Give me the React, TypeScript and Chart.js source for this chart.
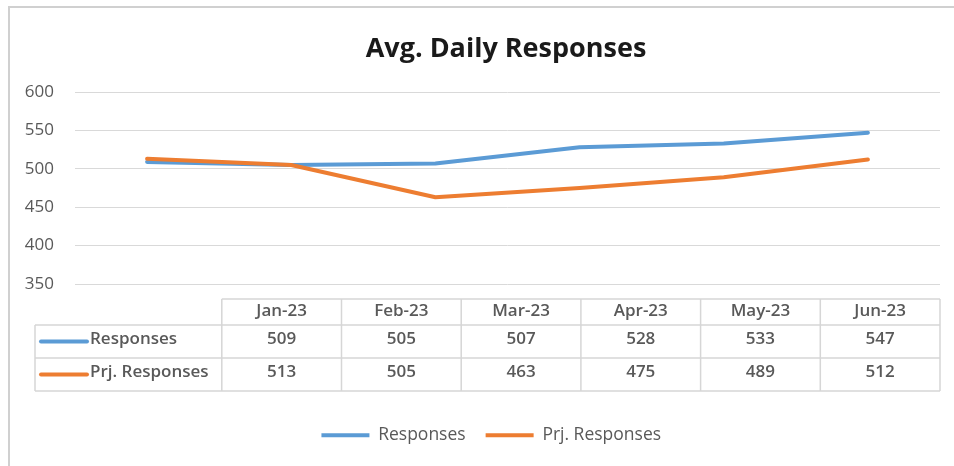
import React, { useEffect, useRef } from "react";
import { Chart, registerables } from "chart.js";

Chart.register(...registerables);

const titleText = "Avg. Daily Responses";
const categories = ["Jan-23", "Feb-23", "Mar-23", "Apr-23", "May-23", "Jun-23"];
const seriesNames = ["Responses", "Prj. Responses"];
const responses = [509, 505, 507, 528, 533, 547];
const prjResponses = [513, 505, 463, 475, 489, 512];
const yMin = 350;
const yMax = 600;
const yStep = 50;

const BLUE = "#5B9BD5";
const ORANGE = "#ED7D31";
const FONT = "'Open Sans', 'DejaVu Sans', sans-serif";
const TEXT = "#595959";
const GRID = "#D9D9D9";

const seriesValues = [responses, prjResponses];
const seriesColors = [BLUE, ORANGE];

const framePlugin = {
  id: "frame",
  beforeDraw(chart: any) {
    const ctx = chart.ctx;
    ctx.save();
    ctx.fillStyle = "#ffffff";
    ctx.fillRect(0, 0, chart.width, chart.height);
    ctx.strokeStyle = "#D0D0D0";
    ctx.lineWidth = 2;
    ctx.strokeRect(9, 7, 1000, 500);
    ctx.restore();
  },
};

const placePlugin = {
  id: "place",
  afterLayout(chart: any) {
    const t = chart.titleBlock;
    if (t) {
      t.left = 72;
      t.right = 940;
      t.width = 868;
    }
    const l = chart.legend;
    if (l) {
      l.left = 42.5;
      l.right = 940;
      l.width = 897.5;
    }
  },
};

const tablePlugin = {
  id: "dataTable",
  afterDraw(chart: any) {
    const ctx = chart.ctx;
    const area = chart.chartArea;
    const right = area.right;
    const n = categories.length;
    const colW = 119.7;
    const first = right - colW * n;
    const labelLeft = 35;
    const top = area.bottom + 15;
    const r1 = top + 26;
    const r2 = r1 + 33;
    const r3 = r2 + 33;

    ctx.save();
    ctx.strokeStyle = "#D6D6D6";
    ctx.lineWidth = 1.5;
    ctx.beginPath();
    ctx.moveTo(first, top);
    ctx.lineTo(right, top);
    [r1, r2, r3].forEach((y) => {
      ctx.moveTo(labelLeft, y);
      ctx.lineTo(right, y);
    });
    for (let i = 0; i <= n; i++) {
      const x = first + colW * i;
      ctx.moveTo(x, top);
      ctx.lineTo(x, r3);
    }
    ctx.moveTo(labelLeft, r1);
    ctx.lineTo(labelLeft, r3);
    ctx.stroke();

    ctx.fillStyle = TEXT;
    ctx.textBaseline = "middle";
    ctx.textAlign = "center";
    ctx.font = `600 17px ${FONT}`;
    categories.forEach((c, i) => {
      ctx.fillText(c, first + colW * (i + 0.5), (top + r1) / 2 - 1);
    });
    const rowTops = [r1, r2];
    seriesValues.forEach((vals, s) => {
      const cy = rowTops[s] + 33 / 2 - 2;
      vals.forEach((v, i) => {
        ctx.textAlign = "center";
        ctx.fillText(String(v), first + colW * (i + 0.5), cy);
      });
      ctx.strokeStyle = seriesColors[s];
      ctx.lineWidth = 4;
      ctx.lineCap = "round";
      ctx.beginPath();
      ctx.moveTo(41, cy + 2);
      ctx.lineTo(87, cy + 2);
      ctx.stroke();
      ctx.textAlign = "left";
      ctx.fillText(seriesNames[s], 90, cy);
    });
    ctx.restore();
  },
};

export default function App() {
  const ref = useRef<HTMLCanvasElement | null>(null);

  useEffect(() => {
    if (!ref.current) return;
    const chart = new Chart(ref.current, {
      type: "line",
      data: {
        labels: categories,
        datasets: [
          {
            label: seriesNames[0],
            data: responses,
            borderColor: BLUE,
            backgroundColor: BLUE,
            borderWidth: 4,
            pointRadius: 0,
            tension: 0,
            borderCapStyle: "round",
            borderJoinStyle: "round",
            order: 1,
          },
          {
            label: seriesNames[1],
            data: prjResponses,
            borderColor: ORANGE,
            backgroundColor: ORANGE,
            borderWidth: 4,
            pointRadius: 0,
            tension: 0,
            borderCapStyle: "round",
            borderJoinStyle: "round",
            order: 0,
          },
        ],
      },
      options: {
        responsive: false,
        animation: false,
        devicePixelRatio: 1,
        layout: { padding: { left: 0, right: 14, top: 0, bottom: 12 } },
        plugins: {
          tooltip: { enabled: false },
          title: {
            display: true,
            text: titleText,
            color: "#1a1a1a",
            font: { family: FONT, size: 27, weight: "bold", lineHeight: 1.2 },
            padding: { top: 33, bottom: 26.6 },
          },
          legend: {
            display: true,
            position: "bottom",
            labels: {
              usePointStyle: true,
              pointStyle: "line",
              pointStyleWidth: 48,
              padding: 20,
              color: TEXT,
              font: { family: FONT, size: 17.5 },
              sort: (a: any, b: any) => a.datasetIndex - b.datasetIndex,
            },
          },
        },
        scales: {
          x: {
            type: "category",
            offset: true,
            display: true,
            grid: { display: false },
            border: { display: false },
            ticks: { display: false },
            afterFit: (s: any) => {
              s.height = 122.5;
            },
          },
          y: {
            min: yMin,
            max: yMax,
            ticks: {
              stepSize: yStep,
              color: TEXT,
              padding: 21,
              font: { family: FONT, size: 17 },
            },
            grid: { color: GRID, lineWidth: 1, drawTicks: false },
            border: { display: false },
            afterFit: (s: any) => {
              s.width = 75;
            },
          },
        },
      },
      plugins: [framePlugin, placePlugin, tablePlugin],
    });
    return () => chart.destroy();
  }, []);

  return (
    <div style={{ position: "fixed", left: 0, top: 0, width: 954, height: 466, background: "#fff" }}>
      <canvas ref={ref} width={954} height={466} style={{ display: "block", width: 954, height: 466 }} />
    </div>
  );
}
